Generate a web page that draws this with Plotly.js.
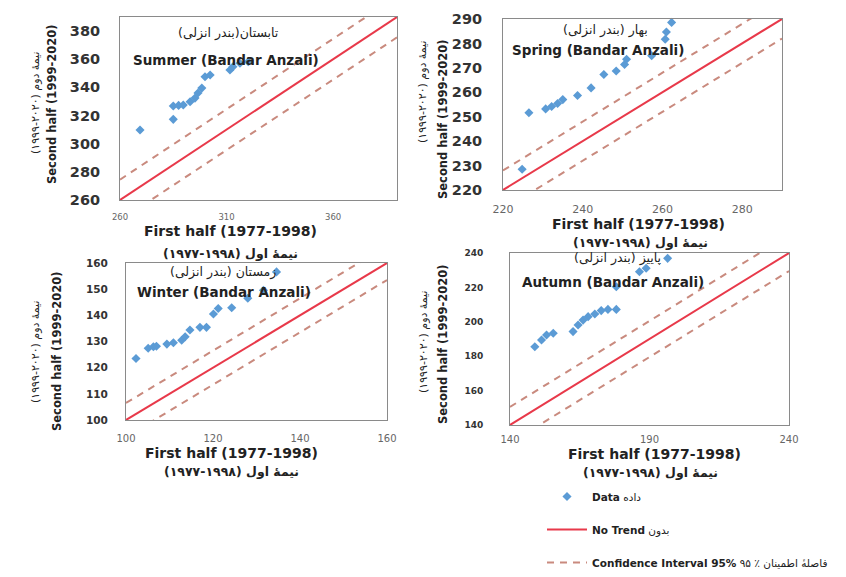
<!DOCTYPE html>
<html>
<head>
<meta charset="utf-8">
<script src="https://cdn.plot.ly/plotly-3.0.1.min.js"></script>
<style>html,body{margin:0;padding:0;background:#fff;}</style>
</head>
<body>
<div id="chart" style="width:846px;height:577px;"></div>
<script>
// ---- data ----
const summerX = [269.4, 285, 285, 287.5, 289.7, 292.9, 295.2, 296.6, 298.4, 299.9, 302.3, 311.6, 313, 316.3, 320.2];
const summerY = [309.7, 317.3, 326.8, 327.2, 327.5, 329.8, 332.4, 336, 339.5, 347.6, 348.8, 352.3, 354.7, 357.1, 358.2];
const springX = [224.8, 226.5, 230.7, 232.2, 233.7, 235, 238.7, 242.1, 245.3, 248.4, 250.5, 251, 257.3, 260.7, 261, 262.3];
const springY = [228.5, 251.6, 253.2, 254.2, 255.4, 257, 258.7, 261.8, 267.3, 268.7, 271.4, 273.5, 275, 281.7, 284.7, 288.6];
const winterX = [102.3, 105.1, 106.3, 107, 109.4, 110.9, 112.8, 113.6, 114.7, 117, 118.5, 120.1, 121.2, 124.3, 128, 131.6, 134.6];
const winterY = [123.5, 127.4, 128, 128.2, 129, 129.5, 130.5, 131.8, 134.4, 135.4, 135.4, 140.5, 142.6, 142.9, 146.5, 149.6, 156.6];
const autumnX = [148.9, 151.3, 153.1, 155.5, 162.6, 164.4, 166.2, 168, 170.4, 172.7, 175.1, 178.1, 178.1, 186.4, 188.8, 196.5, 201.3];
const autumnY = [185.5, 189.4, 192.3, 193.3, 194.3, 198.1, 201, 203, 204.5, 206.5, 207.2, 207.2, 220.4, 229.1, 231.1, 236.9, 240.9];

const panelRanges = {summer: [260, 390], spring: [220, 290], winter: [100, 160], autumn: [140, 240]};
const ciOffsets = {summer: 14.5, spring: 8, winter: 6.5, autumn: 10.5};
const xTickStep = {summer: 50, spring: 20, winter: 20, autumn: 50};
const yTickStep = {summer: 20, spring: 10, winter: 10, autumn: 20};

const panelTitlesEn = {summer: 'Summer (Bandar Anzali)', spring: 'Spring (Bandar Anzali)', winter: 'Winter (Bandar Anzali)', autumn: 'Autumn (Bandar Anzali)'};
const panelTitlesFa = {summer: 'تابستان(بندر انزلی)', spring: 'بهار (بندر انزلی)', winter: 'زمستان (بندر انزلی)', autumn: 'پاییز (بندر انزلی)'};
const xTitleEn = 'First half (1977-1998)';
const xTitleFa = 'نیمهٔ اول (۱۹۹۸-۱۹۷۷)';
const yTitleEn = 'Second half (1999-2020)';
const yTitleFa = 'نیمهٔ دوم (۲۰۲۰-۱۹۹۹)';
const legendNames = ['<b>Data</b> داده', '<b>No Trend</b> بدون', '<b>Confidence Interval 95%</b> \u200Fفاصلهٔ اطمینان ٪ ۹۵\u200F'];

// ---- layout helpers ----
const W = 846, H = 577;
const px = x => x / W;
const py = y => 1 - y / H;
const RLM = '\u200F';
const fa = s => RLM + s + RLM;

const FONT = 'DejaVu Sans, Liberation Sans, sans-serif';
const BLUE = '#5b9bd5', RED = '#e8394a', DASH = '#c98a7e';

const panels = [
  {key: 'summer', xs: summerX, ys: summerY, xa: 'x', ya: 'y', box: [120, 397, 17, 200],
   ytf: 14.5, xtf: 8.5, ystand: 16, xstand: 9,
   tFa: [228, 33], tEn: [226, 60], xEn: [230, 231], xFa: [230, 253], yEn: [52, 105], yFa: [35, 103]},
  {key: 'spring', xs: springX, ys: springY, xa: 'x2', ya: 'y2', box: [503, 782, 19, 190],
   ytf: 14.5, xtf: 11, ystand: 17, xstand: 9,
   tFa: [605, 30], tEn: [598, 50], xEn: [638, 224], xFa: [640, 242], yEn: [443, 120], yFa: [423, 92]},
  {key: 'winter', xs: winterX, ys: winterY, xa: 'x3', ya: 'y3', box: [126, 387, 263, 420],
   ytf: 10.5, xtf: 10, ystand: 15, xstand: 9,
   tFa: [223, 272], tEn: [224, 292], xEn: [231, 453], xFa: [231, 471], yEn: [57, 352], yFa: [35, 352]},
  {key: 'autumn', xs: autumnX, ys: autumnY, xa: 'x4', ya: 'y4', box: [510, 789, 253, 425],
   ytf: 9, xtf: 10, ystand: 24, xstand: 5,
   tFa: [618, 258], tEn: [613, 282], xEn: [654, 454], xFa: [650, 472], yEn: [443, 345], yFa: [423, 342]}
];

const traces = [];
const layout = {
  width: W, height: H, autosize: false,
  margin: {l: 0, r: 0, t: 0, b: 0},
  paper_bgcolor: '#fff', plot_bgcolor: '#fff',
  font: {family: FONT, color: '#333'},
  showlegend: true,
  legend: {x: px(542), y: 0, xanchor: 'left', yanchor: 'bottom',
           font: {family: FONT, size: 10.5, color: '#222'}, itemwidth: 40,
           traceorder: 'grouped', tracegroupgap: 14, bgcolor: 'rgba(0,0,0,0)'},
  annotations: []
};

function ann(text, x, y, size, bold, angle, color) {
  layout.annotations.push({
    text: text, xref: 'paper', yref: 'paper', x: px(x), y: py(y),
    xanchor: 'center', yanchor: 'middle', showarrow: false,
    textangle: angle || 0,
    font: {family: FONT, size: size, color: color || '#222', weight: bold ? 'bold' : 'normal'}
  });
}

panels.forEach((p, i) => {
  const r = panelRanges[p.key];
  const off = ciOffsets[p.key];
  const first = i === 0;
  traces.push({x: p.xs, y: p.ys, xaxis: p.xa, yaxis: p.ya, type: 'scatter', mode: 'markers',
    name: legendNames[0], legendgroup: 'data', showlegend: first, cliponaxis: false,
    marker: {symbol: 'diamond', size: 7, color: BLUE}});
  traces.push({x: r, y: r, xaxis: p.xa, yaxis: p.ya, type: 'scatter', mode: 'lines',
    name: legendNames[1], legendgroup: 'trend', showlegend: first,
    line: {color: RED, width: 2}});
  traces.push({x: r, y: [r[0] + off, r[1] + off], xaxis: p.xa, yaxis: p.ya, type: 'scatter', mode: 'lines',
    name: legendNames[2], legendgroup: 'ci', showlegend: first,
    line: {color: DASH, width: 2, dash: '7px,6px'}});
  traces.push({x: r, y: [r[0] - off, r[1] - off], xaxis: p.xa, yaxis: p.ya, type: 'scatter', mode: 'lines',
    name: legendNames[2], legendgroup: 'ci', showlegend: false,
    line: {color: DASH, width: 2, dash: '7px,6px'}});

  const xName = 'xaxis' + (i ? i + 1 : '');
  const yName = 'yaxis' + (i ? i + 1 : '');
  const [l, rr, t, b] = p.box;
  layout[xName] = {
    domain: [px(l), px(rr)], range: r, anchor: p.ya,
    tick0: r[0], dtick: xTickStep[p.key], ticks: '', ticklabelstandoff: p.xstand,
    tickfont: {family: FONT, size: p.xtf, color: '#666'},
    showgrid: false, zeroline: false, showline: true, mirror: true,
    linecolor: '#8a8a8a', linewidth: 1, fixedrange: true
  };
  layout[yName] = {
    domain: [py(b), py(t)], range: r, anchor: p.xa,
    tick0: r[0], dtick: yTickStep[p.key], ticks: '', ticklabelstandoff: p.ystand,
    tickfont: {family: FONT, size: p.ytf, color: '#333', weight: 'bold'},
    showgrid: false, zeroline: false, showline: true, mirror: true,
    linecolor: '#8a8a8a', linewidth: 1, fixedrange: true
  };

  ann(fa(panelTitlesFa[p.key]), p.tFa[0], p.tFa[1], 12.5, false);
  ann(panelTitlesEn[p.key], p.tEn[0], p.tEn[1], 13.5, true);
  ann(xTitleEn, p.xEn[0], p.xEn[1], 14, true);
  ann(fa(xTitleFa), p.xFa[0], p.xFa[1], 12.5, true);
  ann(yTitleEn, p.yEn[0], p.yEn[1], 11.5, true, -90);
  ann(fa(yTitleFa), p.yFa[0], p.yFa[1], 11, false, -90);
});

Plotly.newPlot('chart', traces, layout, {staticPlot: true, displayModeBar: false});
</script>
</body>
</html>
